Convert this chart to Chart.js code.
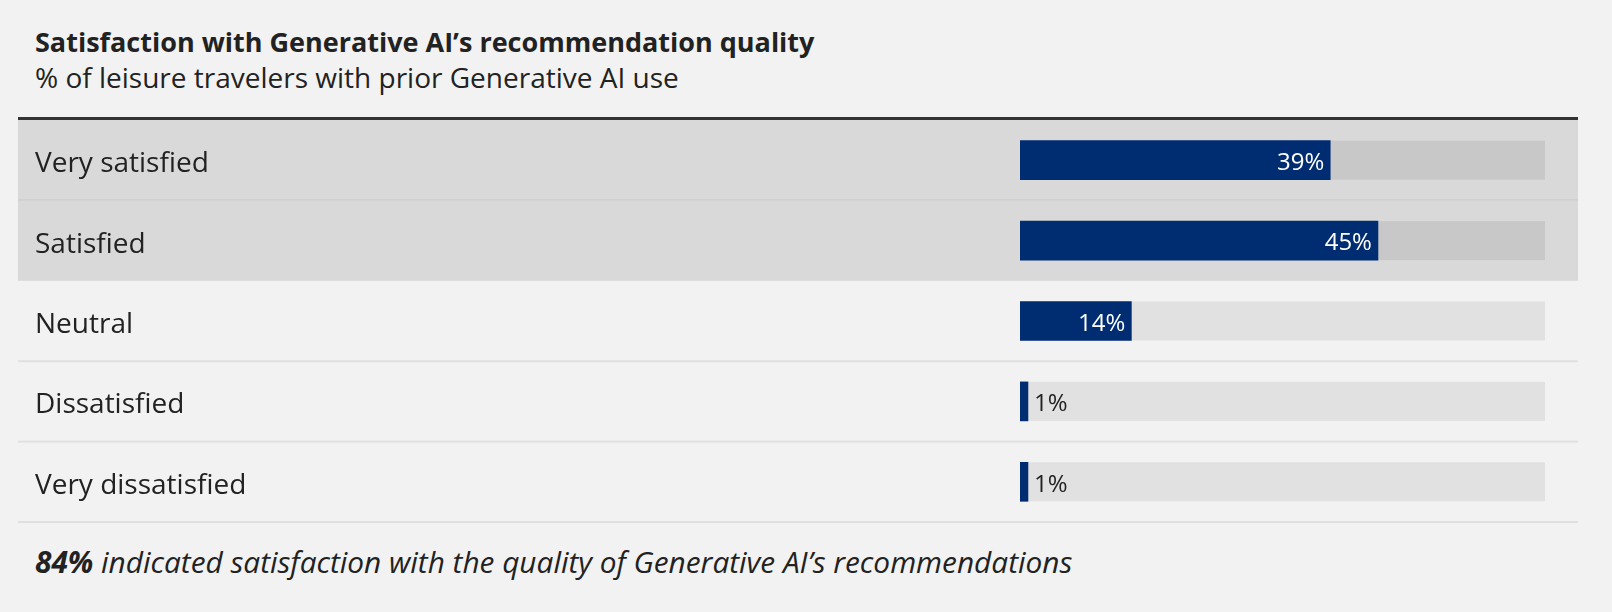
<!DOCTYPE html>
<html>
<head>
<meta charset="utf-8">
<script src="https://cdn.jsdelivr.net/npm/chart.js@4.4.1/dist/chart.umd.min.js"></script>
<style>
  html, body { margin: 0; padding: 0; background: #f2f2f2; }
  body { width: 1612px; height: 612px; position: relative; overflow: hidden; font-family: "Open Sans", sans-serif; color: #222; }
  .title { position: absolute; left: 35px; top: 27px; font-size: 27px; font-weight: 700; line-height: 30px; white-space: nowrap; }
  .subtitle { position: absolute; left: 35px; top: 60px; font-size: 28px; line-height: 34px; white-space: nowrap; }
  .rule { position: absolute; left: 18px; top: 117px; width: 1560px; height: 3px; background: #333; }
  .wrap { position: absolute; left: 0; top: 120px; width: 1612px; height: 404px; }
  .note { position: absolute; left: 35px; top: 544px; font-size: 29.8px; font-style: italic; line-height: 36px; white-space: nowrap; }
</style>
</head>
<body>
<div class="title">Satisfaction with Generative AI’s recommendation quality</div>
<div class="subtitle">% of leisure travelers with prior Generative AI use</div>
<div class="rule"></div>
<div class="wrap"><canvas id="chart"></canvas></div>
<div class="note"><b>84%</b> indicated satisfaction with the quality of Generative AI’s recommendations</div>
<script>
const categories = ['Very satisfied', 'Satisfied', 'Neutral', 'Dissatisfied', 'Very dissatisfied'];
const shares = [39, 45, 14, 1, 1];
const valueLabels = ['39%', '45%', '14%', '1%', '1%'];
const highlighted = ['Very satisfied', 'Satisfied'];
const axisMax = 66;

const navy = '#002d72';
const bandLeft = 18, bandRight = 1578;

// row bands, separators and the grey tracks behind the bars
const rowBands = {
    id: 'rowBands',
    beforeDraw(chart) {
        const ctx = chart.ctx;
        const y = chart.scales.y, x = chart.scales.x;
        const rowH = (y.bottom - y.top) / categories.length;
        const lastHi = categories.map(c => highlighted.includes(c)).lastIndexOf(true);
        ctx.save();
        categories.forEach((c, i) => {
            const top = y.getPixelForValue(i) - rowH / 2;
            const hi = highlighted.includes(c);
            if (hi) {
                ctx.fillStyle = '#d9d9d9';
                ctx.fillRect(bandLeft, top, bandRight - bandLeft, rowH);
            }
            if (i !== lastHi) {
                ctx.fillStyle = hi ? '#cbcbcb' : '#e0e0e0';
                ctx.fillRect(bandLeft, top + rowH - 1, bandRight - bandLeft, 2);
            }
        });
        const meta = chart.getDatasetMeta(0);
        meta.data.forEach((bar, i) => {
            ctx.fillStyle = highlighted.includes(categories[i]) ? '#c8c8c8' : '#e1e1e1';
            ctx.fillRect(x.left, bar.y - bar.height / 2, x.right - x.left, bar.height);
        });
        ctx.restore();
    }
};

const barValues = {
    id: 'barValues',
    afterDatasetsDraw(chart) {
        const ctx = chart.ctx;
        const meta = chart.getDatasetMeta(0);
        ctx.save();
        ctx.font = '24px "Open Sans"';
        ctx.textBaseline = 'middle';
        meta.data.forEach((bar, i) => {
            const txt = valueLabels[i];
            const w = ctx.measureText(txt).width;
            const len = bar.x - bar.base;
            if (len > w + 14) {
                ctx.fillStyle = '#fff';
                ctx.textAlign = 'right';
                ctx.fillText(txt, bar.x - 6, bar.y + 3);
            } else {
                ctx.fillStyle = '#222';
                ctx.textAlign = 'left';
                ctx.fillText(txt, bar.x + 6, bar.y + 3);
            }
        });
        ctx.restore();
    }
};

const ctx = document.getElementById('chart').getContext('2d');
const chart = new Chart(ctx, {
    type: 'bar',
    data: {
        labels: categories,
        datasets: [{
            data: shares,
            backgroundColor: navy,
            barThickness: 39,
            borderWidth: 0
        }]
    },
    options: {
        indexAxis: 'y',
        responsive: true,
        maintainAspectRatio: false,
        animation: false,
        layout: {
            padding: { left: 35, right: 67, top: 0, bottom: 2 }
        },
        plugins: {
            legend: { display: false },
            tooltip: { enabled: false }
        },
        scales: {
            x: {
                display: false,
                min: 0,
                max: axisMax
            },
            y: {
                grid: { display: false },
                border: { display: false },
                ticks: {
                    crossAlign: 'far',
                    labelOffset: 4,
                    color: '#222',
                    font: { family: '"Open Sans"', size: 28 }
                },
                afterFit(scale) {
                    scale.width = 1020 - 35;
                    scale.paddingTop = 0;
                    scale.paddingBottom = 0;
                }
            }
        }
    },
    plugins: [rowBands, barValues]
});
</script>
</body>
</html>
